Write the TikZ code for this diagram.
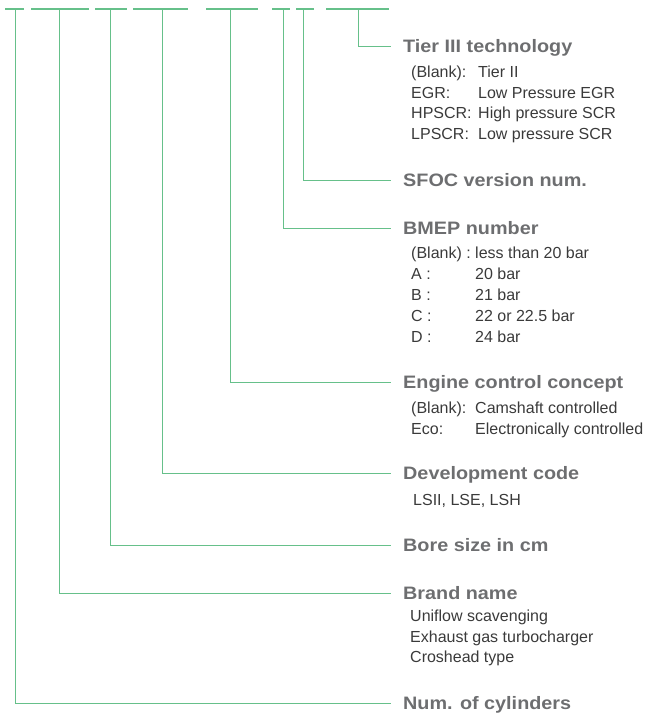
\documentclass[tikz,border=0pt]{standalone}
\usepackage{fontspec}
\setmainfont{Liberation Sans}
\newfontfamily\titlefont[FakeStretch=1.1]{Liberation Sans Bold}
\definecolor{lgreen}{HTML}{66C08A}
\definecolor{ttlgray}{HTML}{6D6E70}
\definecolor{bodygray}{HTML}{3A3A3A}
\begin{document}
\begin{tikzpicture}[x=1pt,y=-1pt,
  bar/.style={draw=lgreen,line width=2pt},
  lead/.style={draw=lgreen,line width=1pt},
  ttl/.style={anchor=base west,inner sep=0pt,text=ttlgray,font=\titlefont\fontsize{18}{20}\selectfont},
  bdy/.style={anchor=base west,inner sep=0pt,text=bodygray,font=\fontsize{16}{19}\selectfont}]
\useasboundingbox (0,0) rectangle (647,713);
% bars
\foreach \n/\a/\b/\v in {1/5/24/15, 2/31/89/59, 3/95/127/110, 4/133/188/162,
  5/206/258/230, 6/272/290/283, 7/296/314/303, 8/326/389/358}{
  \coordinate (l\n) at (\a,8.5);
  \coordinate (r\n) at (\b,8.5);
  \coordinate (v\n) at (\v,8.5);
  \draw[bar] (l\n) -- (r\n);
}
% leader ends
\coordinate (e8) at (391,46);
\coordinate (e7) at (391,180);
\coordinate (e6) at (391,228);
\coordinate (e5) at (391,382);
\coordinate (e4) at (391,473);
\coordinate (e3) at (391,545);
\coordinate (e2) at (391,593);
\coordinate (e1) at (391,703);
\foreach \n in {1,...,8}{\draw[lead] (v\n) |- (e\n);}
% titles
\node[ttl] (t8) at (403,52.7) {Tier III technology};
\node[ttl] (t7) at (403,186.3) {SFOC version num.};
\node[ttl] (t6) at (403,234.3) {BMEP number};
\node[ttl] (t5) at (403,388.5) {Engine control concept};
\node[ttl] (t4) at (403,479.3) {Development code};
\node[ttl] (t3) at (403,551.3) {Bore size in cm};
\node[ttl] (t2) at (403,599.3) {Brand name};
\node[ttl] (t1) at (403,709.5) {Num. of cylinders};
% Tier III body
\node[bdy] (a1) at (411,77.7) {(Blank):};
\node[bdy] (a2) at (411,98.3) {EGR:};
\node[bdy] (a3) at (411,118.7) {HPSCR:};
\node[bdy] (a4) at (411,139) {LPSCR:};
\node[bdy] (b1) at (478,77.7) {Tier II};
\node[bdy] (b2) at (478,98.3) {Low Pressure EGR};
\node[bdy] (b3) at (478,118.7) {High pressure SCR};
\node[bdy] (b4) at (478,139) {Low pressure SCR};
% BMEP body
\node[bdy] (c1) at (411,258.3) {(Blank) :};
\node[bdy] (c2) at (411,279.3) {A :};
\node[bdy] (c3) at (411,300.5) {B :};
\node[bdy] (c4) at (411,321.5) {C :};
\node[bdy] (c5) at (411,342.5) {D :};
\node[bdy] (d1) at (475,258.3) {less than 20 bar};
\node[bdy] (d2) at (475,279.3) {20 bar};
\node[bdy] (d3) at (475,300.5) {21 bar};
\node[bdy] (d4) at (475,321.5) {22 or 22.5 bar};
\node[bdy] (d5) at (475,342.5) {24 bar};
% Engine control body
\node[bdy] (f1) at (411,413.3) {(Blank):};
\node[bdy] (f2) at (411,434) {Eco:};
\node[bdy] (g1) at (475,413.3) {Camshaft controlled};
\node[bdy] (g2) at (475,434) {Electronically controlled};
% Development code body
\node[bdy] (h1) at (413,505) {LSII, LSE, LSH};
% Brand name body
\node[bdy] (k1) at (410,621.7) {Uniflow scavenging};
\node[bdy] (k2) at (410,642.3) {Exhaust gas turbocharger};
\node[bdy] (k3) at (410,662.7) {Croshead type};
\end{tikzpicture}
\end{document}
